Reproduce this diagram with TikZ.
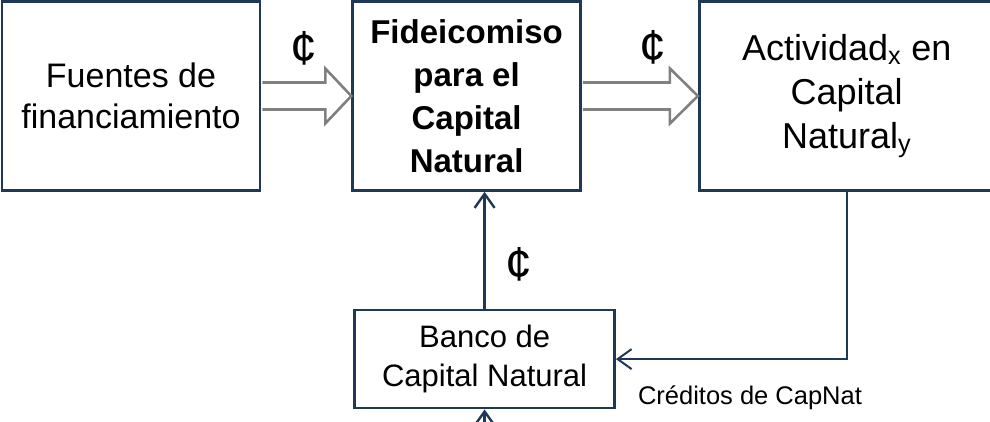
\documentclass[tikz,border=0pt]{standalone}
\usepackage{fontspec}
\setmainfont{Liberation Sans}
\usetikzlibrary{positioning,calc,arrows.meta}
\definecolor{boxblue}{RGB}{31,56,86}
\definecolor{arrowgray}{RGB}{128,128,128}

\begin{document}
\begin{tikzpicture}[%
    x=1pt, y=1pt,
    >={Straight Barb[length=14pt,width=20pt]},
    bigbox/.style={%
      rectangle,
      draw=boxblue,
      line width=2.6pt,
      align=center,
      inner sep=0pt,
      minimum height=189pt,
      font=\fontsize{34}{41}\selectfont
    },
    bankbox/.style={%
      bigbox,
      minimum width=260pt,
      minimum height=98pt,
      font=\fontsize{31}{39}\selectfont
    },
    hollow/.style={draw=arrowgray, line width=2.6pt, line join=miter},
    flow/.style={->, draw=boxblue, line width=2.4pt},
    money/.style={inner sep=0pt, font=\fontsize{48}{48}\selectfont}
  ]
  \useasboundingbox (0,0) rectangle (990,421);
  % Nodes:
    \node[bigbox, minimum width=258pt] (fuentes) at (131,325) {Fuentes de\\financiamiento};
    \node[bigbox, minimum width=228pt, font=\fontsize{33}{43}\selectfont\bfseries] (fideo) [right=90pt of fuentes] {Fideicomiso\\para el\\Capital\\Natural};
    \node[bigbox, minimum width=295pt, font=\fontsize{36}{44}\selectfont] (actividad) [right=116pt of fideo] {Actividad\textsubscript{x} en\\Capital\\Natural\textsubscript{y}};
    \node[bankbox] (banco) [below=117pt of fideo, xshift=18pt] {\raisebox{-4pt}{\parbox{250pt}{\centering Banco de\\Capital Natural}}};
    \node[font=\fontsize{25.5}{25.5}\selectfont] (creditos) at (750,23) {Créditos de CapNat};
    \node[money] (cent1) at ($(fuentes.east)!0.5!(fideo.west)+(-2,48)$) {¢};
    \node[money] (cent2) at ($(fideo.east)!0.5!(actividad.west)+(13,49)$) {¢};
    \coordinate (fondo) at ($(banco.south)+(0,-40)$);
  % Paths:
    \draw[hollow] ($(fuentes.east)+(1,13.5)$) -- ($(fideo.west)+(-26,13.5)$) -- ++(0,14)
          -- (fideo.west) -- ($(fideo.west)+(-26,-27.5)$) -- ++(0,14) -- ($(fuentes.east)+(1,-13.5)$);
    \draw[hollow] ($(fideo.east)+(1,13.5)$) -- ($(actividad.west)+(-28,13.5)$) -- ++(0,14)
          -- (actividad.west) -- ($(actividad.west)+(-28,-27.5)$) -- ++(0,14) -- ($(fideo.east)+(1,-13.5)$);
    \draw[flow] (banco.north) -- node[money, right=20pt, pos=0.38] (cent3) {¢} (banco.north |- fideo.south);
    \draw[flow, line width=2pt] (actividad.south) |- (banco.east);
    \draw[flow] (fondo) -- (banco.south);
\end{tikzpicture}
\end{document}
